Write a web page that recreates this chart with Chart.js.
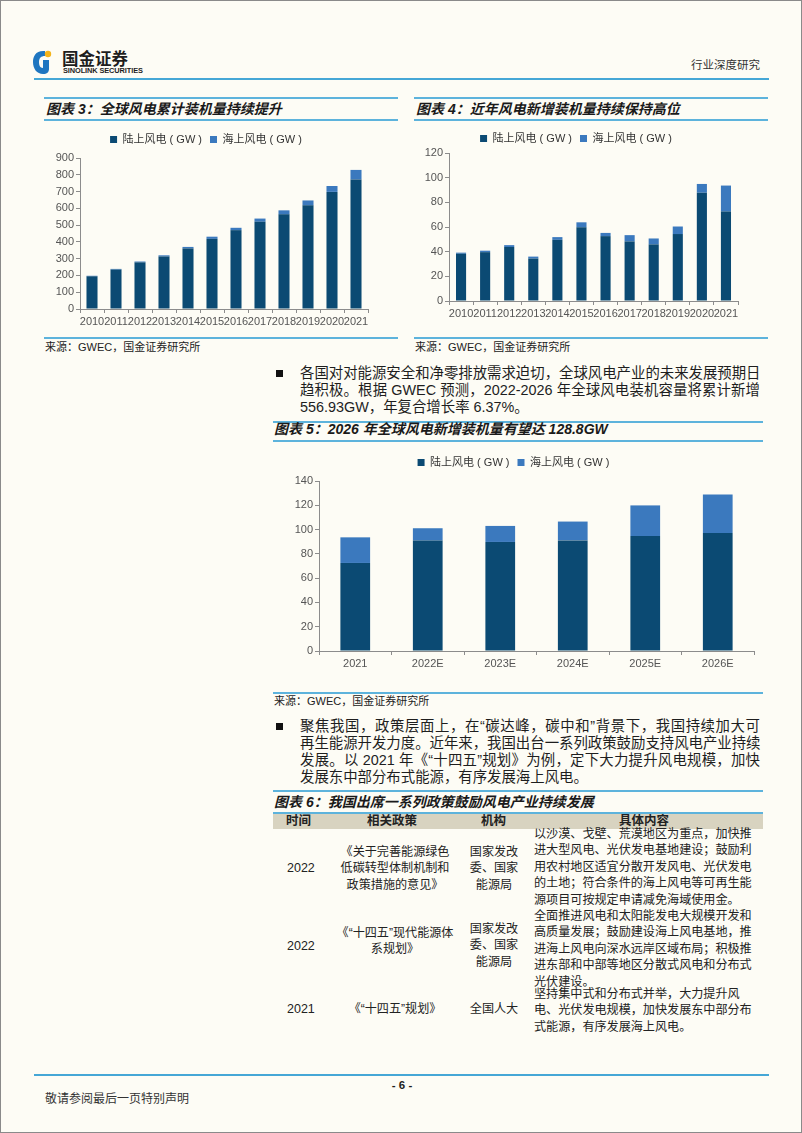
<!DOCTYPE html>
<html>
<head>
<meta charset="utf-8">
<script src="https://cdn.jsdelivr.net/npm/chart.js@4.4.1/dist/chart.umd.min.js"></script>
<style>
  body { margin: 0; background: #fdfcf5; }
  .page { position: relative; width: 802px; height: 1133px; background: #fdfcf5; border: 1px solid #8a8a8a; box-sizing: border-box; overflow: hidden;
          font-family: 'Liberation Sans', 'Noto Sans CJK SC', sans-serif; color: #1e1e1e; }
  .t { position: absolute; white-space: nowrap; line-height: 16px; }
  .hl { position: absolute; height: 2px; background: #5db3dc; }
  .ttl { position: absolute; white-space: nowrap; line-height: 18px; font-size: 14px; font-weight: bold; font-style: italic; font-family: 'Liberation Sans', 'Noto Sans CJK SC', sans-serif; color: #1a1a1a; }
  .src { position: absolute; white-space: nowrap; line-height: 14px; font-size: 11px; color: #222; }
  .p { position: absolute; left: 299px; width: 460px; line-height: 17px; font-size: 14.4px; white-space: nowrap; }
  .j { text-align: justify; text-align-last: justify; }
  .bul { position: absolute; left: 275px; width: 7px; height: 7px; background: #111; }
  .cell { position: absolute; font-size: 12.1px; line-height: 16.4px; color: #222; white-space: nowrap; }
  .c { text-align: center; }
  canvas { position: absolute; }
</style>
</head>
<body>
<div class="page">
  <!-- 页眉 -->
  <svg style="position:absolute;left:31px;top:46px" width="20" height="30" viewBox="0 0 20 30">
    <path d="M13 4 C4 3 1 9 1 15 C1 22 5 27 11 27 C15 27 17 25 17 22 L17 13 L11 13 L11 21 C8 21 7 18 7 15 C7 11 9 9 13 9 Z" fill="#1f76c0"/>
    <circle cx="16" cy="7" r="3.2" fill="#f4b41a"/>
  </svg>
  <div class="t" style="left:61px;top:48px;font-size:16.5px;font-weight:bold;line-height:18px;font-family:'Noto Sans CJK SC';">国金证券</div>
  <div class="t" style="left:62px;top:65px;font-size:7.4px;font-weight:bold;line-height:9px;letter-spacing:-0.1px;">SINOLINK SECURITIES</div>
  <div class="t" style="left:690px;top:55px;font-size:11.5px;font-family:'Noto Sans CJK SC';color:#333;">行业深度研究</div>
  <div class="hl" style="left:33px;top:77px;width:735px;background:#45a7d6;"></div>

  <!-- 图表3 / 图表4 标题 -->
  <div class="hl" style="left:43px;top:96px;width:354px;"></div>
  <div class="hl" style="left:43px;top:118px;width:354px;"></div>
  <div class="ttl" style="left:45px;top:99px;">图表 3：全球风电累计装机量持续提升</div>
  <div class="hl" style="left:413px;top:96px;width:354px;"></div>
  <div class="hl" style="left:413px;top:118px;width:354px;"></div>
  <div class="ttl" style="left:415px;top:99px;">图表 4：近年风电新增装机量持续保持高位</div>

  <canvas id="chart3" width="354" height="209" style="left:43px;top:125px"></canvas>
  <canvas id="chart4" width="354" height="200" style="left:413px;top:124px"></canvas>

  <div class="hl" style="left:43px;top:336px;width:354px;"></div>
  <div class="src" style="left:44px;top:339px;">来源：GWEC，国金证券研究所</div>
  <div class="hl" style="left:413px;top:336px;width:354px;"></div>
  <div class="src" style="left:414px;top:339px;">来源：GWEC，国金证券研究所</div>

  <!-- 正文1 -->
  <div class="bul" style="top:369px"></div>
  <div class="p j" style="top:364px">各国对对能源安全和净零排放需求迫切，全球风电产业的未来发展预期日</div>
  <div class="p j" style="top:381px">趋积极。根据 GWEC 预测，2022-2026 年全球风电装机容量将累计新增</div>
  <div class="p" style="top:398px">556.93GW，年复合增长率 6.37%。</div>

  <!-- 图表5 -->
  <div class="hl" style="left:272px;top:420px;width:490px;"></div>
  <div class="ttl" style="left:273px;top:419px;">图表 5：2026 年全球风电新增装机量有望达 128.8GW</div>
  <div class="hl" style="left:272px;top:439px;width:490px;"></div>
  <canvas id="chart5" width="490" height="226" style="left:272px;top:448px"></canvas>
  <div class="hl" style="left:272px;top:691px;width:490px;"></div>
  <div class="src" style="left:273px;top:693px;">来源：GWEC，国金证券研究所</div>

  <!-- 正文2 -->
  <div class="bul" style="top:722px"></div>
  <div class="p j" style="top:717px">聚焦我国，政策层面上，在“碳达峰，碳中和”背景下，我国持续加大可</div>
  <div class="p j" style="top:734px">再生能源开发力度。近年来，我国出台一系列政策鼓励支持风电产业持续</div>
  <div class="p j" style="top:751px">发展。以 2021 年《“十四五”规划》为例，定下大力提升风电规模，加快</div>
  <div class="p" style="top:768px">发展东中部分布式能源，有序发展海上风电。</div>

  <!-- 图表6 表格 -->
  <div class="hl" style="left:272px;top:789px;width:490px;"></div>
  <div class="ttl" style="left:273px;top:792px;">图表 6：我国出席一系列政策鼓励风电产业持续发展</div>
  <div class="hl" style="left:272px;top:811px;width:490px;"></div>
  <div style="position:absolute;left:272px;top:813px;width:490px;height:15px;background:#d8d3c0;"></div>
  <div class="cell" style="left:285px;top:812px;font-weight:bold;font-size:12.5px;">时间</div>
  <div class="cell" style="left:366px;top:812px;font-weight:bold;font-size:12.5px;">相关政策</div>
  <div class="cell" style="left:480px;top:812px;font-weight:bold;font-size:12.5px;">机构</div>
  <div class="cell" style="left:618px;top:812px;font-weight:bold;font-size:12.5px;">具体内容</div>

  <div class="cell" style="left:286px;top:859px;font-size:12.5px;">2022</div>
  <div class="cell c" style="left:330px;width:128px;top:843px;">《关于完善能源绿色<br>低碳转型体制机制和<br>政策措施的意见》</div>
  <div class="cell c" style="left:465px;width:56px;top:843px;">国家发改<br>委、国家<br>能源局</div>
  <div class="cell" style="left:533px;top:825px;">以沙漠、戈壁、荒漠地区为重点，加快推<br>进大型风电、光伏发电基地建设；鼓励利<br>用农村地区适宜分散开发风电、光伏发电<br>的土地；符合条件的海上风电等可再生能<br>源项目可按规定申请减免海域使用金。</div>

  <div class="cell" style="left:286px;top:937px;font-size:12.5px;">2022</div>
  <div class="cell c" style="left:330px;width:128px;top:924px;">《“十四五”现代能源体<br>系规划》</div>
  <div class="cell c" style="left:465px;width:56px;top:920px;">国家发改<br>委、国家<br>能源局</div>
  <div class="cell" style="left:533px;top:907px;">全面推进风电和太阳能发电大规模开发和<br>高质量发展；鼓励建设海上风电基地，推<br>进海上风电向深水远岸区域布局；积极推<br>进东部和中部等地区分散式风电和分布式<br>光伏建设。</div>

  <div class="cell" style="left:286px;top:1000px;font-size:12.5px;">2021</div>
  <div class="cell c" style="left:330px;width:128px;top:1000px;">《“十四五”规划》</div>
  <div class="cell c" style="left:465px;width:56px;top:1000px;">全国人大</div>
  <div class="cell" style="left:533px;top:985px;">坚持集中式和分布式并举，大力提升风<br>电、光伏发电规模，加快发展东中部分布<br>式能源，有序发展海上风电。</div>

  <!-- 页脚 -->
  <div class="hl" style="left:33px;top:1073px;width:735px;background:#45a7d6;"></div>
  <div class="t" style="left:381px;width:40px;text-align:center;top:1076px;font-size:11.5px;font-weight:bold;">- 6 -</div>
  <div class="t" style="left:44px;top:1089px;font-size:12px;font-family:'Noto Sans CJK SC';color:#333;">敬请参阅最后一页特别声明</div>
</div>

<script>
// 图表3：全球风电累计装机量（GW）
const years = ['2010', '2011', '2012', '2013', '2014', '2015', '2016', '2017', '2018', '2019', '2020', '2021'];
const cumOnshore = [195, 235, 278, 313, 361, 418, 470, 520, 564, 618, 698, 772];
const cumOffshore = [3, 4, 5, 7, 9, 13, 14, 19, 24, 29, 35, 57];

// 图表4：每年新增装机量（GW）
const newOnshore = [38.3, 39.6, 43.8, 34.4, 49.6, 59.8, 52.6, 48.3, 45.9, 54.3, 87.8, 72.5];
const newOffshore = [0.9, 1.2, 1.5, 1.6, 2.2, 4.0, 2.6, 5.1, 4.8, 6.1, 7.1, 21.1];

// 图表5：2021-2026E 新增装机量预测（GW）
const forecastYears = ['2021', '2022E', '2023E', '2024E', '2025E', '2026E'];
const fcOnshore = [72.5, 91.0, 89.8, 91.1, 94.7, 97.2];
const fcOffshore = [21.1, 10.1, 13.2, 15.5, 25.2, 31.6];

const onshoreLabel = '陆上风电 ( GW )';
const offshoreLabel = '海上风电 ( GW )';
const onshoreColor = '#0b4a73';
const offshoreColor = '#3b79be';

Chart.defaults.font.family = "'Liberation Sans', 'Noto Sans CJK SC', sans-serif";
Chart.defaults.font.size = 11;
Chart.defaults.color = '#555';

// 固定图例高度，方便对齐绘图区
const legendHeight = {
    id: 'legendHeight',
    beforeLayout(chart, args, opts) {
        const lg = chart.legend;
        if (!lg || lg._fixed) return;
        const fit = lg.fit;
        lg.fit = function () { fit.call(lg); lg.height = opts.h; };
        lg._fixed = true;
    }
};

function makeChart(id, labels, onshore, offshore, cfg) {
    return new Chart(document.getElementById(id), {
        type: 'bar',
        data: {
            labels: labels,
            datasets: [
                { label: onshoreLabel, data: onshore, backgroundColor: onshoreColor, barPercentage: cfg.bar, categoryPercentage: 1 },
                { label: offshoreLabel, data: offshore, backgroundColor: offshoreColor, barPercentage: cfg.bar, categoryPercentage: 1 }
            ]
        },
        options: {
            responsive: false,
            animation: false,
            layout: { padding: { left: 0, right: cfg.right, top: 0, bottom: 0 } },
            plugins: {
                legend: {
                    position: 'top',
                    labels: { boxWidth: 7, boxHeight: 7, padding: cfg.lgPad, color: '#333', font: { size: 11 } }
                },
                tooltip: { enabled: false },
                legendHeight: { h: cfg.lgH }
            },
            scales: {
                x: {
                    stacked: true,
                    border: { color: '#8c8c8c' },
                    grid: { display: true, drawOnChartArea: false, tickLength: 4, color: '#8c8c8c', offset: true },
                    ticks: { padding: 2, autoSkip: false, maxRotation: 0, minRotation: 0, color: '#555' },
                    afterFit(scale) { scale.height = cfg.xH; }
                },
                y: {
                    stacked: true,
                    min: 0,
                    max: cfg.max,
                    border: { color: '#8c8c8c' },
                    grid: { display: true, drawOnChartArea: false, tickLength: 4, color: '#8c8c8c' },
                    ticks: { stepSize: cfg.step, padding: 2, color: '#555' },
                    afterFit(scale) { scale.width = cfg.yW; }
                }
            }
        },
        plugins: [legendHeight]
    });
}

makeChart('chart3', years, cumOnshore, cumOffshore,
    { bar: 0.46, right: 30, max: 900, step: 100, yW: 36, xH: 26, lgPad: 8, lgH: 32 });
makeChart('chart4', years, newOnshore, newOffshore,
    { bar: 0.42, right: 30, max: 120, step: 20, yW: 35, xH: 24, lgPad: 8, lgH: 28 });
makeChart('chart5', forecastYears, fcOnshore, fcOffshore,
    { bar: 0.41, right: 9, max: 140, step: 20, yW: 46, xH: 24, lgPad: 8, lgH: 32 });
</script>
</body>
</html>
